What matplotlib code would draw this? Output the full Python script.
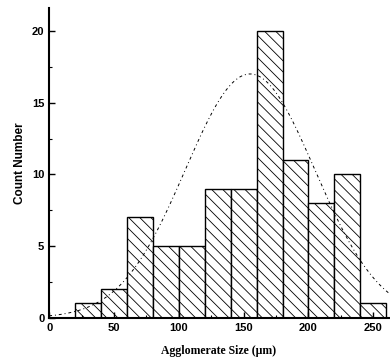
import matplotlib.pyplot as plt
import numpy as np

# histogram data
bin_edges = [20, 40, 60, 80, 100, 120, 140, 160, 180, 200, 220, 240, 260]
counts = [1, 2, 7, 5, 5, 9, 9, 20, 11, 8, 10, 1]

# fitted normal curve
fit_mean = 155
fit_sigma = 50
fit_peak = 17

plt.rcParams['hatch.linewidth'] = 0.6

fig = plt.figure(figsize=(3.9, 3.62), dpi=100)
ax = fig.add_axes([0.126, 0.122, 0.871, 0.856])

lefts = bin_edges[:-1]
widths = np.diff(bin_edges)
ax.bar(lefts, counts, width=widths, align='edge', color='white',
       edgecolor='black', linewidth=1.0, hatch='\\\\\\')

xs = np.linspace(0, 265, 300)
ys = fit_peak * np.exp(-(xs - fit_mean) ** 2 / (2 * fit_sigma ** 2))
ax.plot(xs, ys, color='black', linewidth=0.7, linestyle=(0, (3, 3, 1, 3)))

ax.set_xlim(0, 262)
ax.set_ylim(0, 21.6)
ax.set_xticks([0, 50, 100, 150, 200, 250])
ax.set_xticks([25, 75, 125, 175, 225], minor=True)
ax.set_yticks([0, 5, 10, 15, 20])
ax.set_yticks([2.5, 7.5, 12.5, 17.5], minor=True)
ax.tick_params(direction='in', length=4, width=1)
ax.tick_params(which='minor', direction='in', length=2, width=0.8)
for lab in ax.get_xticklabels() + ax.get_yticklabels():
    lab.set_fontfamily('Liberation Sans')
    lab.set_fontweight('bold')
    lab.set_fontsize(8)

ax.spines['top'].set_visible(False)
ax.spines['right'].set_visible(False)
ax.spines['left'].set_linewidth(1.5)
ax.spines['bottom'].set_linewidth(1.5)

ax.set_xlabel('Agglomerate Size (\u03bcm)', fontfamily='Liberation Serif',
              fontweight='bold', fontsize=8.5, labelpad=9)
ax.set_ylabel('Count Number', fontfamily='Liberation Sans',
              fontweight='bold', fontsize=8.5)

plt.savefig('out.png', dpi=100)
